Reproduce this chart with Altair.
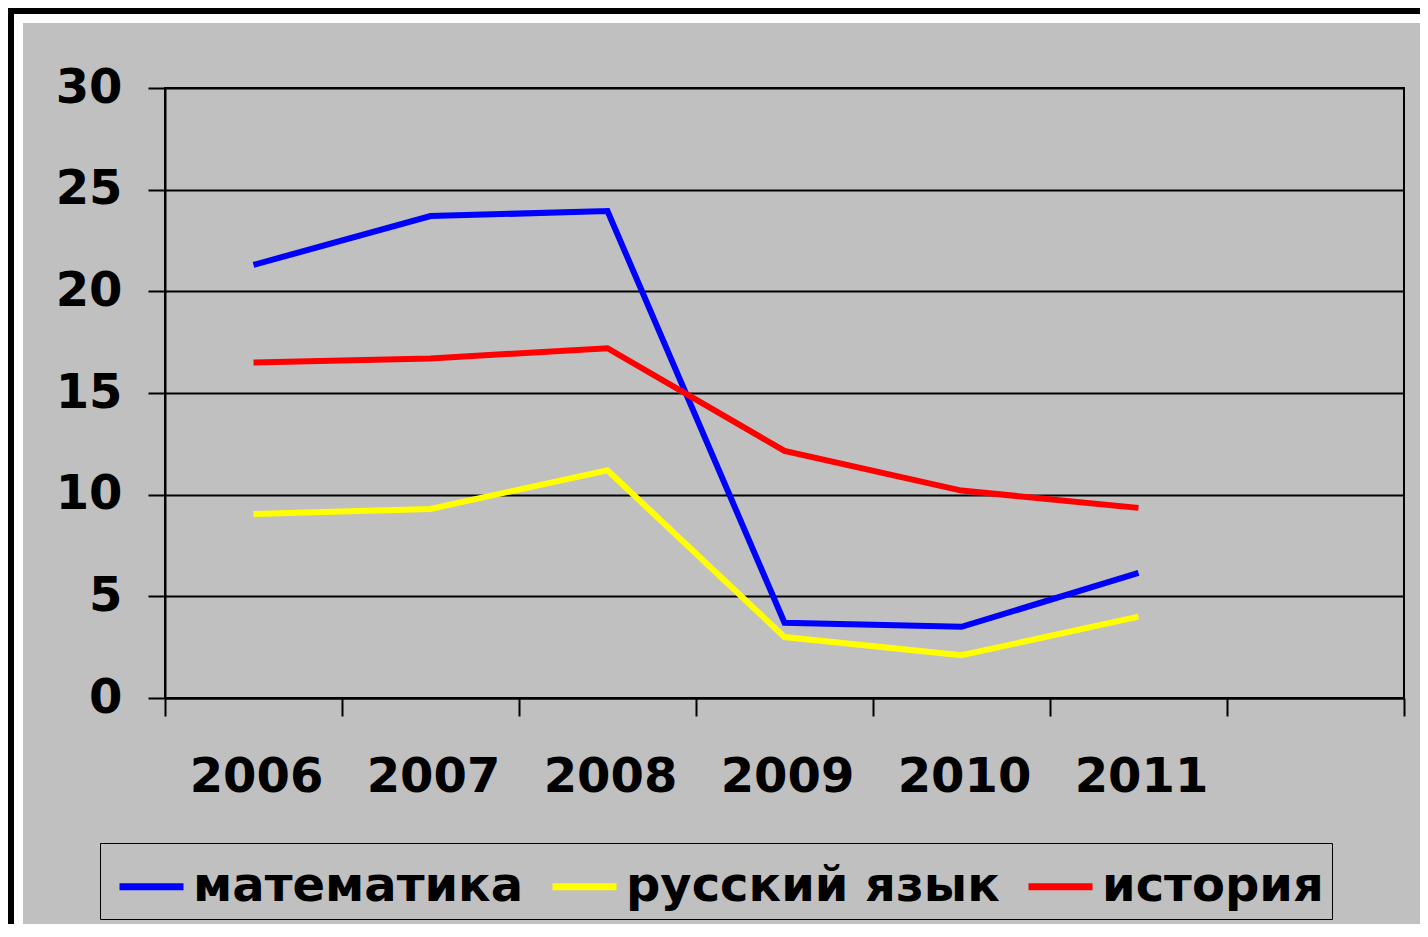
import altair as alt
import pandas as pd

years = [2006, 2007, 2008, 2009, 2010, 2011]
subjects = ["математика", "русский язык", "история"]
colors = ["#0000FF", "#FFFF00", "#FF0000"]
math = [21.3, 23.7, 23.95, 3.7, 3.5, 6.15]
russian = [9.05, 9.3, 11.2, 3.0, 2.1, 4.0]
history = [16.5, 16.7, 17.2, 12.15, 10.2, 9.35]
y_ticks = [0, 5, 10, 15, 20, 25, 30]
x_bounds = [2005.5, 2006.5, 2007.5, 2008.5, 2009.5, 2010.5, 2011.5, 2012.5]

rows = []
for s, vals in zip(subjects, [math, russian, history]):
    for yr, v in zip(years, vals):
        rows.append({"year": yr, "subject": s, "value": v})
df = pd.DataFrame(rows)
year_df = pd.DataFrame({"year": years, "label": [str(y) for y in years]})

FONT = "DejaVu Sans"
FS = 48
W, H = 1239, 610
PL, PT, PR, PB = 157, 80, 16, 226
BG = "#C0C0C0"

xscale = alt.Scale(domain=[2005.5, 2012.5], nice=False, zero=False)

lines = alt.Chart(df).mark_line(strokeWidth=6).encode(
    x=alt.X(
        "year:Q",
        scale=xscale,
        axis=alt.Axis(
            values=x_bounds, title=None, grid=False, labels=False,
            tickSize=18, tickWidth=2, tickColor="black",
            domainColor="black", domainWidth=2,
        ),
    ),
    y=alt.Y(
        "value:Q",
        scale=alt.Scale(domain=[0, 30], nice=False),
        axis=alt.Axis(
            values=y_ticks, title=None, grid=True, gridColor="black",
            gridWidth=2, gridOpacity=1,
            tickSize=17, tickWidth=2, tickColor="black",
            domainColor="black", domainWidth=2,
            labelPadding=26, labelFont=FONT, labelFontSize=FS,
            labelFontWeight="bold", labelColor="black",
        ),
    ),
    color=alt.Color(
        "subject:N",
        scale=alt.Scale(domain=subjects, range=colors),
        legend=alt.Legend(
            title=None, orient="none", legendX=-65, legendY=755,
            direction="horizontal", symbolType="stroke",
            symbolSize=4096, symbolStrokeWidth=7, symbolOffset=8,
            labelFont=FONT, labelFontSize=FS, labelFontWeight="bold",
            labelColor="black", labelLimit=0, labelOffset=6,
            columnPadding=14, padding=8,
            strokeColor="black", fillColor=BG,
        ),
    ),
)

year_labels = alt.Chart(year_df).mark_text(
    font=FONT, fontSize=FS, fontWeight="bold", color="black",
    align="center", baseline="middle", dx=3,
).encode(
    x=alt.X("year:Q", scale=xscale),
    y=alt.value(H + 80),
    text="label:N",
)

frame_df = pd.DataFrame({"a": [0]})


def strip(x, x2, y, y2, color):
    return alt.Chart(frame_df).mark_rect(color=color).encode(
        x=alt.value(x), x2=alt.value(x2), y=alt.value(y), y2=alt.value(y2)
    )


decor = [
    strip(-157, 1255, -80, -65, "white"),
    strip(-157, -142, -80, 836, "white"),
    strip(-157, 1255, -80, -74, "black"),
    strip(-157, -151, -80, 836, "black"),
]

chart = alt.layer(*decor, lines, year_labels).properties(
    width=W, height=H,
    autosize=alt.AutoSizeParams(type="none"),
    padding={"left": PL, "top": PT, "right": PR, "bottom": PB},
).configure(background=BG).configure_view(
    stroke="black", strokeWidth=2, fill=None
)

chart.save("out.html", embed_options={"renderer": "svg", "actions": False})
